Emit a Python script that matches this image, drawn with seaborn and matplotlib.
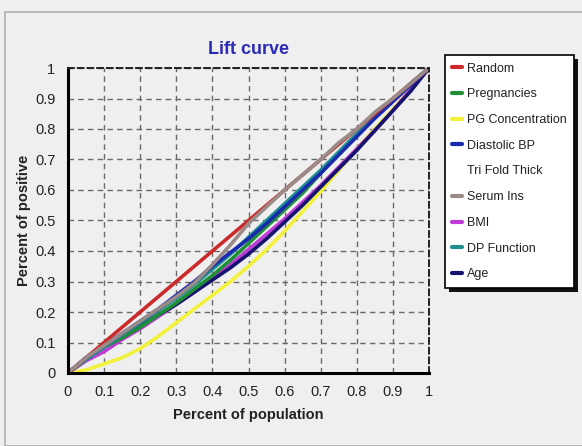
import matplotlib
matplotlib.use("Agg")
import matplotlib.pyplot as plt
import matplotlib.patches as mpatches
from matplotlib.lines import Line2D
from matplotlib.ticker import MultipleLocator
import numpy as np
import pandas as pd
import seaborn as sns

# ---- data ----
pop = [0, .05, .1, .15, .2, .25, .3, .35, .4, .45, .5, .55, .6, .65, .7, .75, .8, .85, .9, .95, 1]
random_ = [0, .05, .1, .15, .2, .25, .3, .35, .4, .45, .5, .55, .6, .65, .7, .75, .8, .85, .9, .95, 1]
pregnancies = [0, .045, .085, .115, .15, .19, .23, .275, .32, .37, .425, .48, .535, .59, .655, .72, .78, .84, .895, .95, 1]
pg_conc = [0, .01, .03, .05, .08, .12, .165, .21, .255, .30, .35, .405, .465, .53, .595, .665, .735, .80, .865, .93, 1]
diastolic = [0, .05, .09, .13, .17, .21, .255, .30, .35, .395, .44, .49, .545, .60, .655, .715, .775, .835, .89, .945, 1]
serum = [0, .05, .09, .13, .17, .21, .25, .295, .355, .42, .49, .545, .60, .65, .70, .755, .80, .855, .90, .95, 1]
bmi = [0, .04, .07, .11, .145, .185, .225, .265, .31, .355, .405, .455, .505, .56, .615, .675, .735, .795, .86, .93, 1]
dp_func = [0, .045, .085, .125, .165, .205, .245, .29, .34, .39, .445, .50, .555, .61, .665, .725, .785, .84, .895, .95, 1]
age = [0, .05, .09, .12, .155, .19, .225, .265, .305, .345, .39, .44, .495, .55, .61, .67, .73, .795, .86, .925, 1]

legend_labels = ["Random", "Pregnancies", "PG Concentration", "Diastolic BP", "Tri Fold Thick",
                 "Serum Ins", "BMI", "DP Function", "Age"]
series = {
    "Random": random_, "Pregnancies": pregnancies, "PG Concentration": pg_conc,
    "Diastolic BP": diastolic, "Serum Ins": serum, "BMI": bmi,
    "DP Function": dp_func, "Age": age,
}
colors = {
    "Random": "#cc2a2a", "Pregnancies": "#1f8f35", "PG Concentration": "#f2f23a",
    "Diastolic BP": "#1a2ab0", "Tri Fold Thick": "none", "Serum Ins": "#9a8a88",
    "BMI": "#c03ad8", "DP Function": "#1f8f8f", "Age": "#14146e",
}
draw_order = ["PG Concentration", "BMI", "Age", "Pregnancies", "DP Function",
              "Diastolic BP", "Random", "Serum Ins"]

rows = []
for name in draw_order:
    for x, y in zip(pop, series[name]):
        rows.append((name, x, y))
df = pd.DataFrame(rows, columns=["series", "pop", "pos"])

sns.set_style("white")
plt.rcParams["font.family"] = ["Liberation Sans", "DejaVu Sans"]

bg = "#efefef"
fig = plt.figure(figsize=(5.82, 4.46), dpi=100, facecolor=bg)
# outer frame
fig.patches.append(mpatches.Rectangle((5 / 582, 0), 1, 1 - 12 / 446, transform=fig.transFigure,
                                      fill=False, edgecolor="#b0b0b0", linewidth=1.2))
ax = fig.add_axes([68 / 582, 1 - 373 / 446, 361 / 582, 305 / 446])
ax.set_facecolor(bg)

sns.lineplot(data=df, x="pop", y="pos", hue="series", hue_order=draw_order,
             palette={k: colors[k] for k in draw_order}, linewidth=2.6, ax=ax,
             legend=False, sort=False)

ax.set_xlim(0, 1)
ax.set_ylim(0, 1)
ax.xaxis.set_major_locator(MultipleLocator(0.1))
ax.yaxis.set_major_locator(MultipleLocator(0.1))
ax.xaxis.set_minor_locator(MultipleLocator(0.02))
ax.set_xticklabels([f"{v:g}" for v in ax.get_xticks()])
ax.set_yticklabels([f"{v:g}" for v in ax.get_yticks()])
ax.tick_params(axis="both", which="major", direction="out", length=5, width=1,
               color="#333333", labelsize=10.5, labelcolor="#222222", pad=4)
ax.tick_params(axis="x", which="minor", direction="out", length=3, width=0.8, color="#333333")
ax.grid(True, which="major", linestyle=(0, (4, 3)), color="#6a6a6a", linewidth=1.0)
ax.set_axisbelow(True)

for s in ["left", "bottom"]:
    ax.spines[s].set_color("black")
    ax.spines[s].set_linewidth(2.2)
for s in ["top", "right"]:
    ax.spines[s].set_color("#222222")
    ax.spines[s].set_linewidth(1.4)
    ax.spines[s].set_linestyle((0, (3, 2)))

ax.set_xlabel("Percent of population", fontsize=10.5, fontweight="bold", color="#222222", labelpad=6)
ax.set_ylabel("Percent of positive", fontsize=10.5, fontweight="bold", color="#222222", labelpad=3)
ax.set_title("Lift curve", fontsize=13, fontweight="bold", color="#2a2ab4", pad=10)

handles = []
for name in legend_labels:
    c = colors[name]
    handles.append(Line2D([], [], color=c, linewidth=3))
leg = fig.legend(handles, legend_labels, loc="upper left",
                 bbox_to_anchor=(445 / 582, 1 - 55 / 446), frameon=True,
                 fontsize=9, handlelength=0.8, handletextpad=0.35, labelspacing=1.1,
                 borderpad=0.6, borderaxespad=0, fancybox=False, shadow=False,
                 framealpha=1.0)
frame = leg.get_frame()
frame.set_facecolor("white")
frame.set_edgecolor("black")
frame.set_linewidth(1.2)
for t in leg.get_texts():
    t.set_color("#222222")

fig.canvas.draw()
bb = leg.get_window_extent()
W, H = fig.bbox.width, fig.bbox.height
shadow = mpatches.Rectangle(((bb.x0 + 4) / W, (bb.y0 - 4) / H), bb.width / W, bb.height / H,
                            transform=fig.transFigure, facecolor="#111111", edgecolor="none",
                            zorder=leg.get_zorder() - 1)
fig.patches.append(shadow)

fig.savefig("out.png", dpi=100, facecolor=bg)
